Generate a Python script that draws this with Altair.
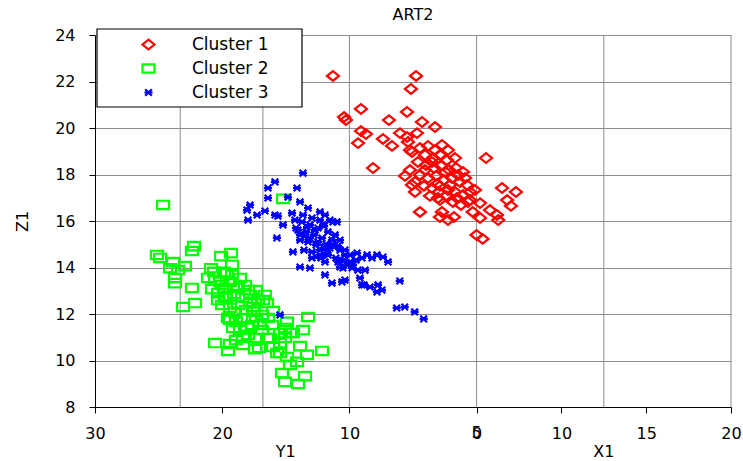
import altair as alt
import pandas as pd

# ---------------- data ----------------
names = ["Cluster 1", "Cluster 2", "Cluster 3"]
colors = ["#ff0000", "#00ff00", "#0000ff"]

# horizontal coordinate "u": Y1 reading (30 .. 0), continuing into X1 side (0 .. -20)
c1_u = [11.29, 4.76, 5.16, 9.09, 10.42, 10.27, 5.47, 6.89, 4.29, 3.27, 9.09, 8.70, 9.32, 7.36, 6.65,
        8.14, 6.02, 5.47, 4.69, 5.39, 5.08, 5.24, -0.74, 4.84, 4.45, 2.72, 2.88, 2.25, 1.78, 0.0,
        -0.47, -2.0, -3.09, -2.4, -2.7, -1.6, -1.7, -1.05, -0.27, 0.68, 0.3, -0.27, 1.54, 2.88,
        4.45, 3.82, 3.27, 2.72, 2.25, 4.06, 3.43, 2.88, 2.33, 1.70, 4.61, 3.98, 3.35, 2.80, 2.17,
        1.62, 1.07, 5.24, 4.45, 3.82, 3.19, 2.56, 1.93, 1.31, 0.75, 4.84, 4.14, 3.51, 2.88, 2.25,
        1.70, 1.07, 0.52, 3.66, 3.03, 2.41, 1.86, 1.23, 0.52, 0.13, 5.08, 5.63, 2.48, 3.11, 2.09,
        1.46, 0.91, 4.06, 3.51, 2.96]
c1_z = [22.24, 22.24, 21.68, 20.82, 20.47, 20.34, 20.69, 20.34, 20.26, 20.04, 19.87, 19.74, 19.35, 19.53, 19.23,
        18.28, 19.78, 19.61, 19.78, 19.40, 18.97, 19.05, 18.71, 17.25, 16.39, 16.39, 16.17, 16.04, 16.17, 15.40,
        15.23, 17.42, 17.25, 16.90, 16.65, 16.26, 16.04, 16.47, 16.77, 16.82, 16.39, 16.13, 16.99, 16.90,
        19.14, 19.23, 19.05, 19.27, 19.05, 18.84, 18.71, 18.84, 18.62, 18.71, 18.54, 18.41, 18.28, 18.37, 18.19,
        18.28, 18.11, 18.19, 17.98, 17.85, 17.94, 17.76, 17.85, 17.68, 17.55, 17.68, 17.51, 17.42, 17.51, 17.33,
        17.25, 17.12, 17.25, 17.08, 16.99, 17.08, 16.82, 16.69, 16.90, 17.33, 17.55, 17.94, 18.11, 17.59, 17.55,
        17.98, 17.85, 18.19, 18.54, 17.25]

c2_u = [24.65, 22.22, 22.38, 25.13, 24.89, 23.86, 24.10, 23.47, 22.93, 23.71, 23.71, 22.38, 22.14, 23.08,
        20.88, 21.12, 20.09, 19.31, 19.63, 20.80, 20.17,
        20.56, 19.39, 19.55, 17.42, 17.11, 16.00, 15.46, 14.91, 14.12, 13.88, 13.33, 13.25, 13.65, 14.91,
        14.44, 12.15, 15.30, 15.06, 14.04, 13.49, 17.58, 18.05, 17.03, 16.48, 17.58, 16.79, 16.48, 19.39,
        19.15, 18.36, 17.26, 16.00, 15.68, 15.06, 14.67, 15.46, 15.06, 16.09, 16.24, 14.67, 15.46, 15.22,
        20.56, 20.01, 19.39, 18.76, 18.21, 20.33, 19.70, 19.08, 18.44, 17.81, 17.19, 20.01, 19.39, 18.76,
        18.13, 17.50, 16.87, 19.55, 18.92, 18.29, 17.66, 18.60, 17.97, 19.78, 19.23, 18.60, 17.97, 17.34,
        16.64, 19.00, 20.33, 19.78, 16.87, 16.40, 17.81, 18.36, 18.92, 20.64, 19.86, 19.23]
c2_z = [16.69, 14.92, 14.71, 14.54, 14.41, 14.23, 13.97, 13.89, 14.06, 13.55, 13.33, 13.12, 12.47, 12.30,
        13.97, 13.55, 14.49, 14.62, 13.76, 13.07, 13.38,
        10.75, 10.71, 10.41, 10.49, 10.54, 10.58, 10.32, 10.15, 9.94, 10.62, 10.24, 11.87, 11.31, 11.66,
        11.18, 10.41, 9.46, 9.08, 8.99, 9.33, 11.83, 11.40, 11.53, 10.97, 12.30, 12.60, 12.47, 11.74,
        11.40, 10.97, 10.97, 12.13, 10.32, 11.40, 11.18, 11.18, 10.97, 11.53, 10.97, 9.81, 10.75, 16.95,
        13.46, 13.25, 13.38, 13.12, 13.25, 12.90, 12.77, 12.86, 12.69, 12.82, 12.60, 12.39, 12.26, 12.39,
        12.17, 12.09, 11.96, 11.83, 11.66, 11.83, 11.53, 11.31, 11.10, 12.69, 13.68, 13.55, 13.03, 13.03,
        12.82, 12.09, 12.60, 13.12, 11.31, 11.83, 12.52, 10.67, 10.88, 13.81, 13.81, 14.11]

c3_u = [13.65, 15.85, 16.40, 14.12, 16.40, 14.83, 17.81, 18.05, 17.26, 16.64, 17.97, 15.85, 15.62, 14.51,
        15.22, 13.88, 13.25, 13.65, 12.31, 11.92, 11.53, 10.98, 15.70, 14.44, 13.88, 12.94, 12.31, 11.92,
        10.74, 10.19, 13.33, 12.07, 11.29, 11.29, 10.74, 11.76, 12.62, 12.23, 13.10, 11.92, 11.37, 10.58,
        10.35, 9.95, 9.40, 8.61, 7.83, 7.36, 6.96, 9.72, 10.51, 9.17, 9.01, 8.38, 7.75, 7.44, 7.83, 6.04,
        6.28, 5.65, 4.87, 4.16, 15.46, 8.85,
        14.28, 13.73, 13.10, 12.47, 14.04, 13.41, 12.78, 12.15, 13.88, 13.25, 12.62, 11.99, 11.37, 10.90,
        10.35, 14.20, 12.94, 12.31, 11.68, 11.13, 13.57, 12.94, 12.31, 11.68, 11.06, 10.43, 9.95, 9.48,
        9.01, 8.22, 10.74, 11.53, 13.10, 12.47, 11.84, 13.49, 13.88, 12.70, 11.99, 10.35, 10.90, 9.79,
        9.33, 8.77]
c3_z = [18.06, 17.68, 17.42, 17.42, 16.99, 17.03, 16.69, 16.47, 16.26, 16.43, 16.04, 16.26, 16.21, 16.34,
        15.83, 16.82, 16.56, 16.26, 16.39, 16.26, 16.04, 15.96, 15.27, 14.67, 14.02, 14.41, 14.54, 14.24,
        14.02, 14.11, 15.74, 15.83, 15.96, 14.97, 14.75, 14.62, 14.45, 14.41, 13.98, 13.68, 13.33, 13.38,
        13.46, 14.54, 14.62, 14.54, 14.54, 14.45, 14.24, 14.11, 13.98, 13.55, 13.25, 13.16, 13.25, 13.03,
        12.95, 13.42, 12.26, 12.30, 12.09, 11.79, 11.96, 13.25,
        16.04, 15.96, 15.83, 15.70, 15.61, 15.53, 15.40, 15.27, 15.18, 15.10, 14.97, 14.84, 15.18, 14.92,
        14.75, 15.70, 16.13, 16.04, 15.53, 15.40, 14.75, 14.67, 14.75, 14.54, 14.41, 14.32, 14.24, 14.32,
        14.41, 14.41, 15.18, 14.84, 15.27, 15.10, 15.01, 15.35, 15.40, 15.61, 15.78, 14.54, 14.24, 13.98,
        13.89, 13.89]

# axis ticks / labels
xtick_pos = [30, 20, 10, 0, -6.67, -13.33, -20]
xtick_lab = ["30", "20", "10", "0", "10", "15", "20"]
extra_pos = [0]            # the "5" of the X1 axis drawn over the "0" of Y1
extra_lab = ["5"]
ytick_vals = [8, 10, 12, 14, 16, 18, 20, 22, 24]
vgrid_u = [23.3, 16.8, 10, 0, -10, -20]
axis_title_u = [15, -10]
axis_title_t = ["Y1", "X1"]

# ---------------- chart ----------------
shapes = ["M-1,0L0,-0.8L1,0L0,0.8Z",
          "M-1,-0.7L1,-0.7L1,0.7L-1,0.7Z",
          "M-0.55,-0.55L0.55,0.55M-0.55,0.55L0.55,-0.55M-0.68,0L0.68,0"]

rows = []
for name, us, zs in zip(names, [c1_u, c2_u, c3_u], [c1_z, c2_z, c3_z]):
    assert len(us) == len(zs), name
    rows += [{"cluster": name, "u": u, "z": z} for u, z in zip(us, zs)]
df = pd.DataFrame(rows)

W, H = 636, 372
FONT = "DejaVu Sans"
xs = alt.Scale(domain=[30, -20], nice=False, zero=False)
ys = alt.Scale(domain=[8, 24], nice=False, zero=False)

label_expr = " : ".join(
    f"abs(datum.value - ({p})) < 0.01 ? '{l}'" for p, l in zip(xtick_pos, xtick_lab)
) + " : ''"

x_axis = alt.Axis(values=xtick_pos, labelExpr=label_expr, title=None, grid=False,
                  tickSize=6, tickColor="black", domainColor="black",
                  labelFont=FONT, labelFontSize=16, labelColor="black",
                  labelPadding=12, labelFlush=False, labelOverlap=False)
y_axis = alt.Axis(values=ytick_vals, grid=True, gridColor="#8c8c8c", gridWidth=1,
                  tickSize=6, tickColor="black", domainColor="black",
                  labelFont=FONT, labelFontSize=16, labelColor="black", labelPadding=14,
                  title="Z1", titleFont=FONT, titleFontSize=16, titleFontWeight="normal",
                  titleColor="black", titleAngle=270, titleX=-73, titleY=186,
                  titleAlign="center", titleBaseline="middle")

X = alt.X("u:Q", scale=xs, axis=x_axis)

leg = alt.Legend(title=None, orient="none", legendX=2, legendY=-5, padding=6,
                 labelFont=FONT, labelFontSize=17, labelColor="black",
                 rowPadding=5, symbolOffset=37, labelOffset=35, symbolStrokeWidth=2.2,
                 symbolSize=144)

vg = alt.Chart(pd.DataFrame({"u": vgrid_u})).mark_rule(
    color="#8c8c8c", strokeWidth=1).encode(x=X)

# white frame behind the legend entries (box spans 205 x 78 px)
legend_box = alt.Chart(pd.DataFrame({"k": [0]})).mark_rect(
    fill="white", stroke="black", strokeWidth=1.2).encode(
    x=alt.value(2), x2=alt.value(207), y=alt.value(-6), y2=alt.value(72))

pts = alt.Chart(df).mark_point(filled=False, strokeWidth=2.2, size=144, opacity=1).encode(
    x=X,
    y=alt.Y("z:Q", scale=ys, axis=y_axis),
    color=alt.Color("cluster:N", scale=alt.Scale(domain=names, range=colors), legend=leg),
    shape=alt.Shape("cluster:N", scale=alt.Scale(domain=names, range=shapes), legend=leg),
)

extra = alt.Chart(pd.DataFrame({"u": extra_pos, "t": extra_lab})).mark_text(
    font=FONT, fontSize=16, baseline="top", color="black").encode(
    x=X, y=alt.value(H + 18), text="t:N")

titles = alt.Chart(pd.DataFrame({"u": axis_title_u, "t": axis_title_t})).mark_text(
    font=FONT, fontSize=16, baseline="middle", color="black").encode(
    x=X, y=alt.value(H + 45), text="t:N")

chart = alt.layer(vg, legend_box, pts, extra, titles).properties(
    width=W, height=H,
    title=alt.TitleParams("ART2", font=FONT, fontSize=16, fontWeight="normal",
                          anchor="middle", offset=4, color="black"),
    autosize=alt.AutoSizeParams(type="none"),
    padding={"left": 95, "top": 35, "right": 12, "bottom": 54},
).configure(background="white").configure_view(stroke=None)

chart.save("out.html", embed_options={"renderer": "svg", "actions": False})
